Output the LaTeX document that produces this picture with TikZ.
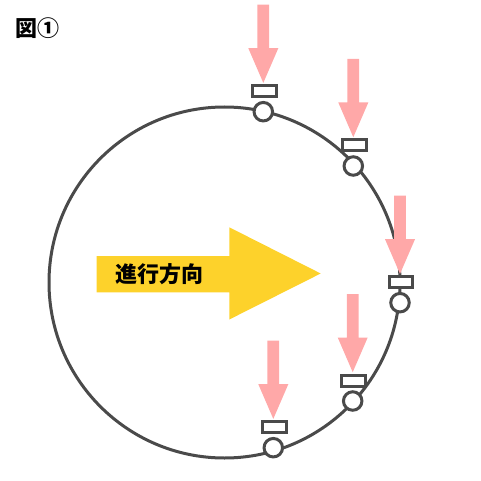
\documentclass[tikz,border=0pt]{standalone}
\usepackage{fontspec}
\newfontfamily\cjk{Noto Sans CJK JP}
\definecolor{linegray}{HTML}{4A4A4A}
\definecolor{pinkarr}{HTML}{FFA8A8}
\definecolor{yellowarr}{HTML}{FDD22B}
\begin{document}
\begin{tikzpicture}[x=1pt,y=-1pt,
  track/.style={circle,draw=linegray,line width=3pt,inner sep=0pt,minimum size=351pt},
  wheel/.style={circle,draw=linegray,line width=3pt,fill=white,minimum size=18.5pt,inner sep=0pt},
  plate/.style={rectangle,draw=linegray,line width=3pt,fill=white,minimum width=23.5pt,minimum height=11pt,inner sep=0pt},
  push/.style={fill=pinkarr},
  bigarrow/.style={fill=yellowarr},
  lbl/.style={anchor=west,inner sep=0pt,font=\cjk\bfseries\fontsize{22}{22}\selectfont}]
\useasboundingbox (0,0) rectangle (480,481);
\node[track] (ring) at (224.5,282.5) {};
\fill[bigarrow] (96.7,256) -- (229.3,256) -- (229.3,227.3) -- (320.7,273.5) -- (229.3,319.5) -- (229.3,292.3) -- (96.7,292.3) -- cycle;
\node[lbl] (dir) at (115,274) {進行方向};
\node[lbl] (title) at (15,28) {図①};
\foreach \i/\x/\y in {1/263.3/111.7, 2/353.3/166, 3/400/302.7, 4/352.7/401, 5/273.3/447.7}{
  \node[wheel] (w\i) at (\x,\y) {};
  \node[plate] (p\i) at (\x+1,\y-20.5) {};
  \begin{scope}[shift={(w\i.center |- p\i.north)}]
    \fill[push] (0,-1.3) -- (-15,-36) -- (-5.85,-36) -- (-5.85,-79.5) -- (5.85,-79.5) -- (5.85,-36) -- (15,-36) -- cycle;
  \end{scope}
}
\end{tikzpicture}
\end{document}
